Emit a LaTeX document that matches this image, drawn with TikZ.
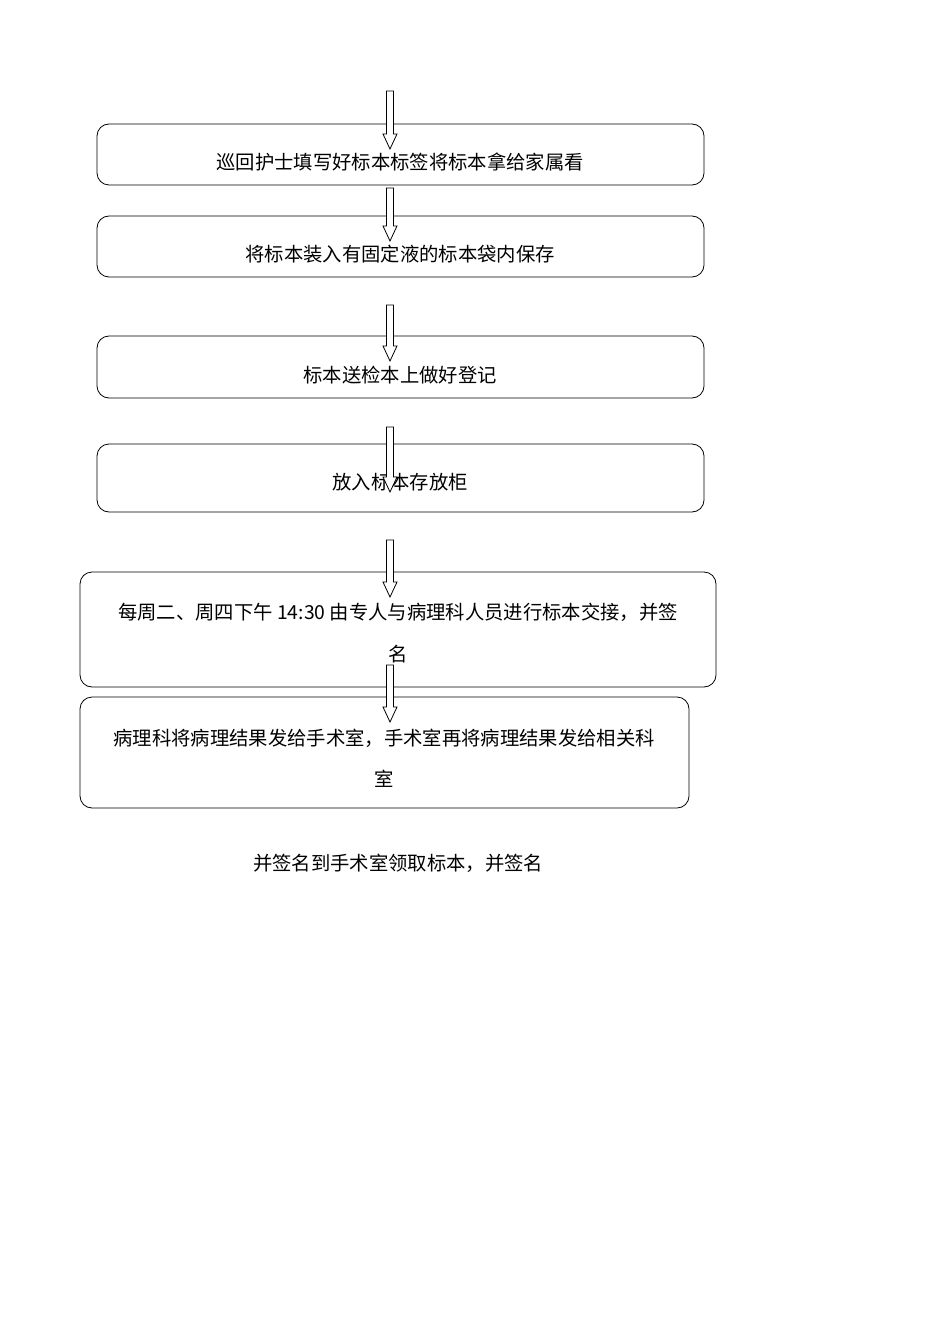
\documentclass[tikz,border=0pt]{standalone}
\usepackage{fontspec}
\setmainfont{Noto Sans CJK SC}
\begin{document}
\begin{tikzpicture}[x=0.75pt,y=-0.75pt,
  boxst/.style={draw,line width=0.6pt,rounded corners=9pt},
  txt/.style={font=\fontsize{14.5pt}{20pt}\selectfont,inner sep=0pt},
  arr/.style={draw,fill=white,line width=0.6pt}]
\useasboundingbox (0,0) rectangle (950,1344);
\newcommand\flarrow[3]{\draw[arr] (#1-3.5,#2)--(#1-3.5,#3-15)--(#1-7,#3-15)--(#1,#3)--(#1+7,#3-15)--(#1+3.5,#3-15)--(#1+3.5,#2)--cycle;}
\draw[boxst] (97,124) rectangle (704,185);
\draw[boxst] (97,216) rectangle (704,277);
\draw[boxst] (97,336) rectangle (704,398);
\draw[boxst] (97,444) rectangle (704,512);
\draw[boxst] (80,572) rectangle (716,687);
\draw[boxst] (80,697) rectangle (689,808);
\node[txt] (t1) at (400,162) {巡回护士填写好标本标签将标本拿给家属看};
\node[txt] (t2) at (400,254) {将标本装入有固定液的标本袋内保存};
\node[txt] (t3) at (400,375) {标本送检本上做好登记};
\node[txt] (t4) at (400,482) {放入标本存放柜};
\node[txt] (t5a) at (398,612) {每周二、周四下午 14:30 由专人与病理科人员进行标本交接，并签};
\node[txt] (t5b) at (398,654) {名};
\node[txt] (t6a) at (384,738) {病理科将病理结果发给手术室，手术室再将病理结果发给相关科};
\node[txt] (t6b) at (384,779) {室};
\node[txt] (t7) at (398,863) {并签名到手术室领取标本，并签名};
\flarrow{390}{91}{149}
\flarrow{390}{188}{241}
\flarrow{390}{305}{361}
\flarrow{390}{427}{492}
\flarrow{390}{540}{597}
\flarrow{390}{665}{722}
\end{tikzpicture}
\end{document}
